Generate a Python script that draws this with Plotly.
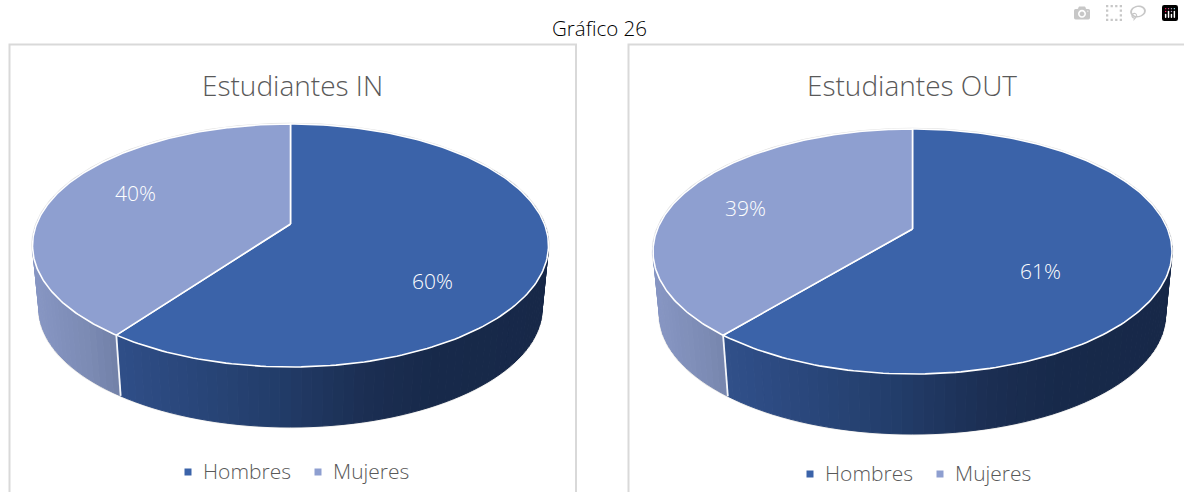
import numpy as np
import plotly.graph_objects as go

# ---- data ----
SUPER_TITLE = "Gráfico 26"
CATEGORIES = ["Hombres", "Mujeres"]
TITLES = ["Estudiantes IN", "Estudiantes OUT"]
VALUES_IN = [60, 40]
VALUES_OUT = [61, 39]
COLORS = ["#3B63A9", "#8E9FD0"]

# ---- layout (pixels of the 1184x492 canvas) ----
W, H = 1184, 492
PANELS = [
    dict(values=VALUES_IN, title=TITLES[0], box=(9.5, 44.5, 576, 520), cx=290.5, cy=245.5, rx=258, ry=121.5,
         hub=224, depth=60, title_xy=(292, 85), lab=[(432.5, 281), (135.5, 193)], leg_y=472,
         leg_m=[188, 318], leg_t=[201, 331]),
    dict(values=VALUES_OUT, title=TITLES[1], box=(628.5, 44.5, 1300, 520), cx=912.5, cy=251.5, rx=259.5, ry=122.5,
         hub=229, depth=60, title_xy=(912, 85), lab=[(1040.5, 271), (745.5, 208)], leg_y=474,
         leg_m=[810, 940], leg_t=[823, 953]),
]
SHRINK = 0.975
FONT = "Open Sans"
GREY = "#595959"

fig = go.Figure()


def add_poly(xs, ys, fill, line=None, width=0.0):
    fig.add_trace(go.Scatter(x=xs, y=ys, mode="lines", fill="toself", fillcolor=fill,
                             line=dict(color=line or fill, width=width), hoverinfo="skip", showlegend=False))


def add_line(xs, ys, color, width):
    fig.add_trace(go.Scatter(x=xs, y=ys, mode="lines", line=dict(color=color, width=width),
                             hoverinfo="skip", showlegend=False))


def mix(stops, x):
    pos = [s[0] for s in stops]
    rgb = [np.interp(x, pos, [s[1][i] for s in stops]) for i in range(3)]
    return "rgb(%d,%d,%d)" % tuple(int(round(c)) for c in rgb)


def draw_pie(p):
    cx, cy, rx, ry, depth = p["cx"], p["cy"], p["rx"], p["ry"], p["depth"]
    a = (p["hub"] - cy) / ry  # perspective shift of the hub

    def top(t_deg):
        t = np.radians(np.asarray(t_deg, dtype=float))
        u, v = np.sin(t), -np.cos(t)
        d = 1 + a * v
        return cx + rx * u * np.sqrt(1 - a * a) / d, cy + ry * (v + a) / d

    cy2 = cy + ry + depth - SHRINK * ry

    def bottom(t_deg):
        x, y = top(t_deg)
        return cx + SHRINK * (x - cx), cy2 + SHRINK * (y - cy)

    total = sum(p["values"])
    split = 360.0 * p["values"][0] / total
    x0 = cx - rx
    span = 2 * rx
    side_stops = [
        [(-0.02, (60, 92, 150)), (0.17, (47, 78, 135)), (0.45, (35, 62, 108)), (0.65, (27, 46, 82)),
         (0.78, (23, 41, 74)), (1.02, (23, 40, 72))],
        [(0.0, (135, 150, 195)), (0.10, (124, 139, 180)), (0.17, (112, 127, 166)), (0.3, (100, 115, 150))],
    ]
    # outer silhouette (thin light line), below everything
    tt = np.linspace(75, 285, 140)
    bx, by = bottom(tt)
    add_line(bx, by, "#E4E4E4", 2.5)
    tx, ty = top(np.linspace(0, 360, 361))
    add_line(tx, ty, "#E0E0E0", 2.5)

    # side wall as thin bands coloured by horizontal position
    grid = np.unique(np.concatenate([np.arange(60, 300.01, 2.0), [split]]))
    for t0, t1 in zip(grid[:-1], grid[1:]):
        ts = np.linspace(t0, t1, 3)
        xa, ya = top(ts)
        xb, yb = bottom(ts[::-1])
        mid = float((xa.mean() - x0) / span)
        idx = 0 if t1 <= split + 1e-9 else 1
        c = mix(side_stops[idx], mid)
        add_poly(list(xa) + list(xb) + [xa[0]], list(ya) + list(yb) + [ya[0]], c, c, 1)

    # top face
    starts = [0.0, split]
    ends = [split, 360.0]
    hx, hy = cx, p["hub"]
    for i, (s, e) in enumerate(zip(starts, ends)):
        ts = np.linspace(s, e, 200)
        xs, ys = top(ts)
        add_poly([hx] + list(xs) + [hx], [hy] + list(ys) + [hy], COLORS[i], "#FFFFFF", 1.6)

    # white edge on the wall between slices
    bxa, bya = top(split)
    bxb, byb = bottom(split)
    add_line([bxa, bxb], [bya, byb], "#F4F6FA", 1.8)

    # panel frame
    x0b, y0b, x1b, y1b = p["box"]
    fig.add_shape(type="rect", x0=x0b, y0=y0b, x1=x1b, y1=y1b, xref="x", yref="y",
                  line=dict(color="#D9D9D9", width=2), fillcolor="rgba(0,0,0,0)", layer="below")

    # chart title
    fig.add_annotation(x=p["title_xy"][0], y=p["title_xy"][1], text=p["title"], showarrow=False, xref="x", yref="y",
                       font=dict(family=FONT, size=28, color=GREY, weight=300))
    # data labels
    for v, (lx, ly) in zip(p["values"], p["lab"]):
        fig.add_annotation(x=lx, y=ly, text=f"{v}%", showarrow=False, xref="x", yref="y",
                           font=dict(family=FONT, size=21, color="#FFFFFF", weight=300))
    # legend
    for name, col, mx, tx_ in zip(CATEGORIES, COLORS, p["leg_m"], p["leg_t"]):
        fig.add_trace(go.Scatter(x=[mx], y=[p["leg_y"]], mode="markers", name=name,
                                 marker=dict(symbol="square", size=7, color=col), hoverinfo="name", showlegend=False))
        fig.add_annotation(x=tx_, y=p["leg_y"] - 1, text=name, showarrow=False, xanchor="left", xref="x", yref="y",
                           font=dict(family=FONT, size=21, color=GREY, weight=300))


for panel in PANELS:
    draw_pie(panel)

fig.add_annotation(x=599, y=27.5, text=SUPER_TITLE, showarrow=False, xref="x", yref="y",
                   font=dict(family=FONT, size=20.5, color="#000000", weight=300))

fig.update_layout(
    width=W, height=H, margin=dict(l=0, r=0, t=0, b=0), paper_bgcolor="#FFFFFF", plot_bgcolor="#FFFFFF",
    xaxis=dict(range=[0, W], visible=False, fixedrange=True),
    yaxis=dict(range=[H, 0], visible=False, fixedrange=True),
    showlegend=False,
)
fig.write_html("out.html", post_script="document.body.style.margin='0';document.body.style.overflow='hidden';")
